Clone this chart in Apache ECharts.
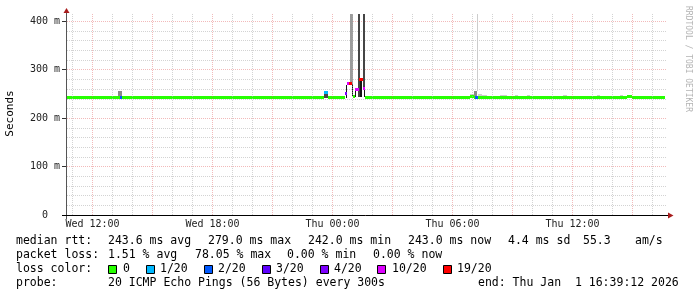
<!DOCTYPE html>
<html><head><meta charset="utf-8">
<script src="https://cdn.jsdelivr.net/npm/echarts@6/dist/echarts.min.js"></script>
<style>html,body{margin:0;padding:0;background:#fff;}#c{width:697px;height:297px;}</style>
</head><body><div id="c"></div>
<script>
// time axis: hours since Wed 00:00
const T_START = 10.725, T_END = 40.725;
const Y_MAX = 415;
const xLabelValues = [12, 18, 24, 30, 36];
const xLabelTexts = ['Wed 12:00', 'Wed 18:00', 'Thu 00:00', 'Thu 06:00', 'Thu 12:00'];
const xMinorGrid = [11, 13, 14, 16, 17, 19, 20, 22, 23, 25, 26, 28, 29, 31, 32, 34, 35, 37, 38, 40];
const xMajorGrid = [12, 15, 18, 21, 24, 27, 30, 33, 36, 39];
const yLabelValues = [0, 100, 200, 300, 400];
const yLabelTexts = ['0\u00a0\u00a0', '100 m', '200 m', '300 m', '400 m'];

const lossColors = ['#26ff00', '#00b8ff', '#0059ff', '#5e00ff', '#7e00ff', '#dd00ff', '#ff0000'];
const lossLabels = ['0', '1/20', '2/20', '3/20', '4/20', '10/20', '19/20'];
const smokeColors = ['#151515', '#454545', '#8a8a8a', '#9c9c9c', '#cdcdcd'];

// median rtt segments (ms) coloured by loss level
const medStart = [10.725, 13.375, 13.475, 23.575, 23.775, 24.625, 24.725, 24.825, 25.025, 25.125, 25.325, 25.525, 25.625, 30.875, 31.075, 31.125, 31.275, 31.725, 35.625, 35.725, 38.725, 38.975];
const medEnd   = [13.375, 13.475, 23.575, 23.775, 24.625, 24.725, 24.825, 24.975, 25.125, 25.325, 25.525, 25.625, 30.875, 31.075, 31.125, 31.275, 31.725, 35.625, 35.725, 38.725, 38.975, 40.625];
const medValue = [243, 243, 243, 253, 243, 251, 272, 271, 244, 260, 279, 262, 243, 245, 243, 243, 243, 242, 243, 242, 244, 243];
const medLoss  = [0, 2, 0, 1, 0, 4, 5, 6, 0, 5, 6, 5, 0, 0, 0, 2, 0, 0, 0, 0, 0, 0];

// smoke (rtt spread) bins
const smokeStart = [13.275, 23.575, 24.675, 24.875, 24.975, 25.125, 25.275, 25.375, 25.51, 25.575, 30.675, 30.875, 31.075, 31.225, 31.275, 31.475, 32.375, 33.125, 33.725, 35.525, 37.225, 38.375, 38.725];
const smokeEnd   = [13.475, 23.775, 24.725, 25.025, 25.025, 25.175, 25.375, 25.475, 25.625, 25.625, 30.775, 31.075, 31.225, 31.275, 31.475, 31.725, 32.725, 33.275, 33.875, 35.725, 37.375, 38.525, 38.975];
const smokeLo    = [246, 242, 242, 268, 245, 243, 243, 243, 262, 243, 243, 245, 244, 255, 246, 244, 245, 245, 245, 245, 245, 245, 245];
const smokeHi    = [255, 252, 268, 415, 270, 262, 415, 279, 415, 262, 246, 249, 255, 415, 249, 247, 248, 248, 248, 248, 248, 248, 248];
const smokeShade = [2, 1, 0, 3, 0, 0, 1, 0, 1, 0, 1, 4, 2, 4, 4, 4, 4, 4, 4, 4, 4, 4, 4];

const legendRow1 = [['median rtt:', 16], ['243.6 ms avg', 108], ['279.0 ms max', 208], ['242.0 ms min', 308], ['243.0 ms now', 408], ['4.4 ms sd', 508], ['55.3', 583], ['am/s', 635]];
const legendRow2 = [['packet loss:', 16], ['1.51 % avg', 108], ['78.05 % max', 195], ['0.00 % min', 287], ['0.00 % now', 373]];
const legendRow3Title = ['loss color:', 16];
const legendBoxX = [108, 146, 204, 262, 320, 377, 443];
const legendLabelX = [123, 160, 218, 276, 334, 392, 457];
const legendRow4 = [['probe:', 16], ['20 ICMP Echo Pings (56 Bytes) every 300s', 108], ['end: Thu Jan  1 16:39:12 2026', 478]];

const MONO = '"DejaVu Sans Mono", monospace';
const GRID_GRAY = 'rgba(175,175,175,0.55)';
const GRID_RED = 'rgba(225,90,90,0.42)';

const smokeData = smokeStart.map((s, i) => [s, smokeEnd[i], smokeLo[i], smokeHi[i], smokeShade[i]]);
const medData = medStart.map((s, i) => [s, medEnd[i], medValue[i], medLoss[i]]);

function txt(t, x, y, size, color) {
  return {
    type: 'text', silent: true, z: 100,
    style: { text: t, x: x, y: y, font: size + 'px ' + MONO, fill: color || '#000',
      textVerticalAlign: 'middle', verticalAlign: 'middle', textAlign: 'left', align: 'left' }
  };
}

const graphics = [];
// axes lines and arrows
graphics.push({ type: 'line', silent: true, z: 90, shape: { x1: 66.5, y1: 13, x2: 66.5, y2: 219 }, style: { stroke: '#555', lineWidth: 1 } });
graphics.push({ type: 'line', silent: true, z: 90, shape: { x1: 62, y1: 215.5, x2: 669, y2: 215.5 }, style: { stroke: '#000', lineWidth: 1 } });
graphics.push({ type: 'polygon', silent: true, z: 91, shape: { points: [[63.5, 13], [66.5, 8], [69.5, 13]] }, style: { fill: '#a81c1c' } });
graphics.push({ type: 'polygon', silent: true, z: 91, shape: { points: [[668, 212.5], [673.5, 215.5], [668, 218.5]] }, style: { fill: '#a81c1c' } });
// y title
graphics.push({ type: 'text', silent: true, z: 100, x: 10.5, y: 113.5, rotation: Math.PI / 2,
  style: { text: 'Seconds', x: 0, y: 0, font: '11px ' + MONO, fill: '#000', textAlign: 'center', align: 'center', textVerticalAlign: 'middle', verticalAlign: 'middle' } });
// rrdtool watermark
graphics.push({ type: 'text', silent: true, z: 100, x: 688.5, y: 59, rotation: -Math.PI / 2,
  style: { text: 'RRDTOOL / TOBI OETIKER', x: 0, y: 0, font: '8px ' + MONO, fill: '#b4b4b4', textAlign: 'center', align: 'center', textVerticalAlign: 'middle', verticalAlign: 'middle' } });
// legend
const LF = 11.5;
legendRow1.forEach(([t, x]) => graphics.push(txt(t, x, 241.5, LF)));
legendRow2.forEach(([t, x]) => graphics.push(txt(t, x, 255.5, LF)));
graphics.push(txt(legendRow3Title[0], legendRow3Title[1], 269.5, LF));
lossColors.forEach((c, i) => {
  graphics.push({ type: 'rect', silent: true, z: 100, shape: { x: legendBoxX[i] + 0.5, y: 265.5, width: 8, height: 8 }, style: { fill: c, stroke: '#000', lineWidth: 1 } });
  graphics.push(txt(lossLabels[i], legendLabelX[i], 269.5, LF));
});
legendRow4.forEach(([t, x]) => graphics.push(txt(t, x, 283.5, LF)));

const chart = echarts.init(document.getElementById('c'), null, { renderer: 'canvas' });
chart.setOption({
  animation: false,
  backgroundColor: '#fff',
  grid: { left: 67, right: 697 - 667, top: 14, bottom: 82, containLabel: false },
  xAxis: {
    type: 'value', min: T_START, max: T_END,
    axisLine: { show: false }, axisTick: { show: false }, splitLine: { show: false },
    axisLabel: {
      customValues: xLabelValues, margin: 4,
      fontFamily: 'DejaVu Sans Mono', fontSize: 10, color: '#222',
      formatter: v => { const i = xLabelValues.findIndex(a => Math.abs(a - v) < 1e-6); return i >= 0 ? xLabelTexts[i] : ''; }
    }
  },
  yAxis: [{
    type: 'value', min: 0, max: Y_MAX, interval: 20,
    axisLine: { show: false },
    axisTick: { show: false },
    axisLabel: {
      interval: 4, showMaxLabel: false, margin: 7,
      fontFamily: 'DejaVu Sans Mono', fontSize: 10, color: '#222',
      formatter: v => { const i = yLabelValues.indexOf(Math.round(v)); return i >= 0 ? yLabelTexts[i] : ''; }
    },
    splitLine: { show: true, showMinLine: true, showMaxLine: false,
      lineStyle: { color: [GRID_RED, GRID_GRAY, GRID_GRAY, GRID_GRAY, GRID_GRAY], type: [1, 1], width: 1 } }
  }, {
    type: 'value', min: 0, max: Y_MAX, position: 'left',
    axisLine: { show: false }, splitLine: { show: false },
    axisLabel: { show: false },
    axisTick: { show: true, customValues: yLabelValues, length: 5, lineStyle: { color: '#333' } }
  }],
  series: [
    { type: 'line', data: [], z: 1, silent: true,
      markLine: { silent: true, symbol: ['none', 'none'], animation: false, label: { show: false },
        data: xMinorGrid.map(v => ({ xAxis: v, lineStyle: { color: GRID_GRAY, type: [1, 1], width: 1 } }))
          .concat(xMajorGrid.map(v => ({ xAxis: v, lineStyle: { color: GRID_RED, type: [1, 1], width: 1 } }))) } },
    { type: 'custom', z: 3, clip: true, silent: true, data: smokeData, encode: { x: [0, 1], y: [2, 3] },
      renderItem: (p, api) => {
        const a = api.coord([api.value(0), api.value(3)]);
        const b = api.coord([api.value(1), api.value(2)]);
        const x0 = Math.round(a[0]), x1 = Math.round(b[0]);
        const y0 = Math.round(a[1]), y1 = Math.round(b[1]);
        return { type: 'rect', shape: { x: x0, y: y0, width: Math.max(1, x1 - x0), height: Math.max(1, y1 - y0) },
          style: { fill: smokeColors[api.value(4)] } };
      } },
    { type: 'custom', z: 4, clip: true, silent: true, data: medData, encode: { x: [0, 1], y: 2 },
      renderItem: (p, api) => {
        const a = api.coord([api.value(0), api.value(2)]);
        const b = api.coord([api.value(1), api.value(2)]);
        const x0 = Math.round(a[0]), x1 = Math.round(b[0]);
        const y0 = Math.round(a[1] - 1.5);
        return { type: 'rect', shape: { x: x0, y: y0, width: Math.max(1, x1 - x0), height: 3 },
          style: { fill: lossColors[api.value(3)] } };
      } }
  ],
  graphic: graphics
});
</script></body></html>
